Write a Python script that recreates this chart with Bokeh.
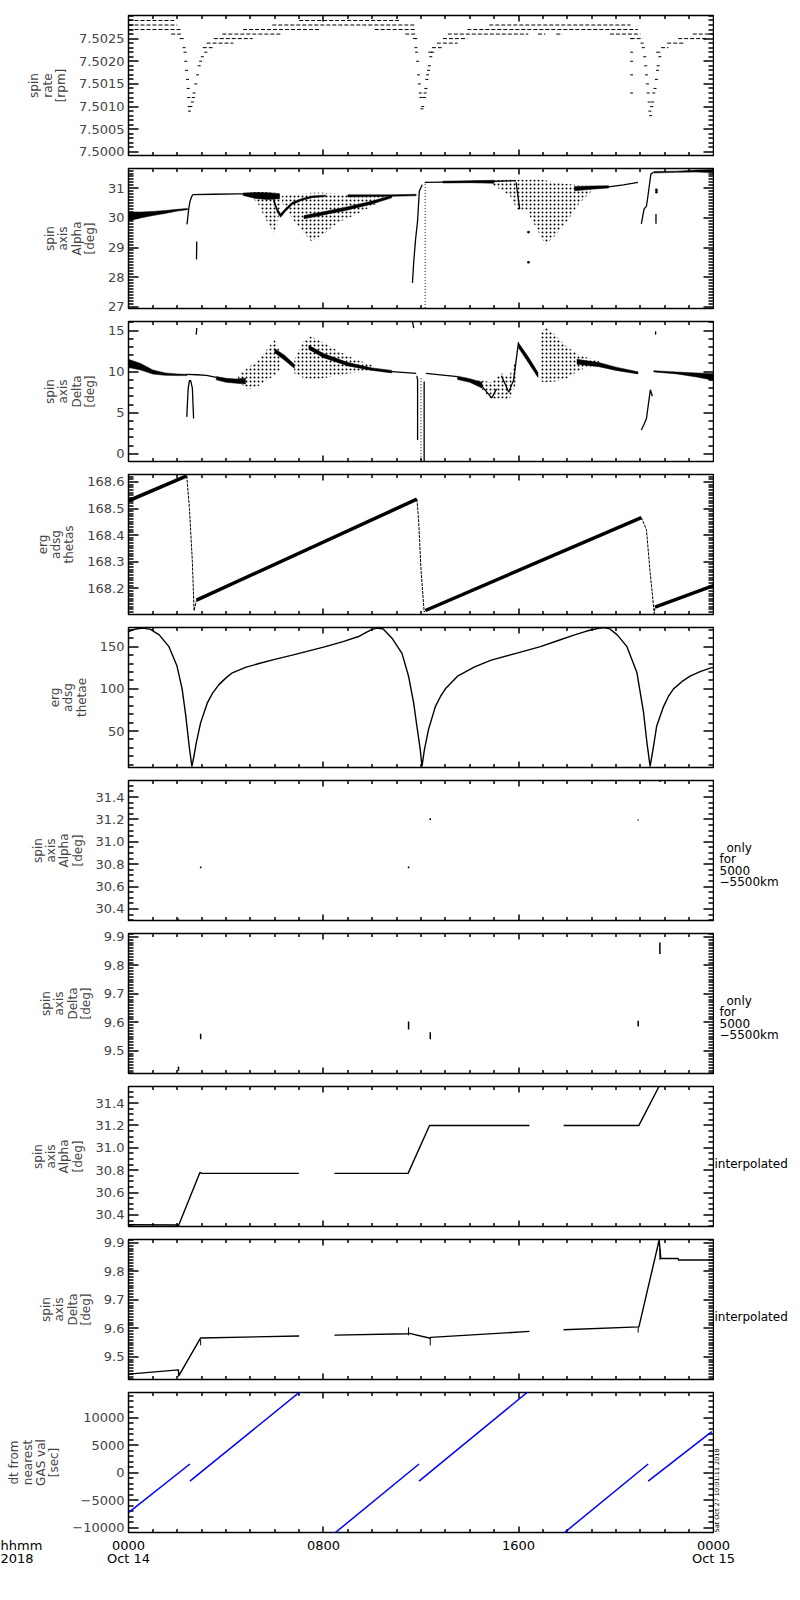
from bokeh.plotting import figure
from bokeh.layouts import column, row
from bokeh.models import LinearAxis, FixedTicker, PrintfTickFormatter, Range1d
from bokeh.core.properties import value
from bokeh.embed import file_html
from bokeh.resources import INLINE

nan = float("nan")
FONT = "DejaVu Sans"
FRAME_W, FRAME_H = 585, 140
BORDER_L, TOP1, GAP_T, GAP_B = 128, 15, 6, 7
PPH = FRAME_W / 24.0

# ---------------- data (hours of Oct 14 2018) ----------------
# spin rate: quantized levels (value, start hour, end hour)
spin_lvl = [7.5029, 7.5028, 7.5027, 7.5026, 7.5025,
            7.5023, 7.5024, 7.5025, 7.5026, 7.5027, 7.5028, 7.5029, 7.5027, 7.5026, 7.5025,
            7.5022, 7.5023, 7.5024, 7.5025, 7.5026, 7.5026, 7.5026, 7.5027, 7.5028,
            7.5026, 7.5025,
            7.5022, 7.5023, 7.5024, 7.5025, 7.5026]
spin_t0 = [0, 0, 0, 1.75, 2.1,
           3.05, 3.2, 3.5, 3.85, 4.7, 5.9, 7.0, 10.1, 11.35, 11.75,
           12.3, 12.45, 12.65, 12.9, 13.1, 16.8, 17.55, 13.9, 14.8,
           19.75, 20.6,
           21.65, 21.85, 22.1, 22.55, 23.15]
spin_t1 = [1.87, 2.0, 2.2, 2.15, 2.3,
           3.45, 4.3, 5.1, 6.3, 7.9, 11.8, 11.1, 11.8, 11.8, 11.85,
           12.5, 12.85, 13.5, 13.9, 16.4, 17.1, 17.8, 20.9, 20.6,
           21.0, 21.1,
           21.9, 22.15, 22.8, 23.7, 24.0]
spin_dip_t = [2.28, 2.32, 2.35, 2.38, 2.42, 2.45, 2.47, 2.49, 2.5, 2.56, 2.62, 2.66, 2.69, 2.76, 2.83, 2.9, 2.96, 3.03, 3.17,
              11.73, 11.79, 11.82, 11.86, 11.9, 11.93, 11.97, 12.0, 12.04, 12.07, 12.14, 12.17, 12.2, 12.24, 12.27, 12.31, 12.34, 12.4, 12.47,
              20.64, 20.64, 20.64, 20.64, 20.64,
              21.07, 21.12, 21.18, 21.22, 21.25, 21.29, 21.32, 21.36, 21.39, 21.42, 21.46, 21.5, 21.55, 21.6, 21.66, 21.7, 21.73, 21.8]
spin_dip_v = [7.5023, 7.5022, 7.5020, 7.5018, 7.5016, 7.5014, 7.5012, 7.5010, 7.5009, 7.5010, 7.5011, 7.5012, 7.5013, 7.5015, 7.5017, 7.5019, 7.5020, 7.5021, 7.5022,
              7.5025, 7.5023, 7.5022, 7.5020, 7.5017, 7.5015, 7.5013, 7.5012, 7.50095, 7.5010, 7.5012, 7.5013, 7.5014, 7.5016, 7.5017, 7.5018, 7.5019, 7.5021, 7.5022,
              7.5025, 7.5022, 7.5020, 7.5017, 7.5013,
              7.5024, 7.5023, 7.5021, 7.5019, 7.5017, 7.5015, 7.5013, 7.5011, 7.5009, 7.5008, 7.5010, 7.5011, 7.5013, 7.5014, 7.5016, 7.5018, 7.5019, 7.5021]

# spin axis alpha (measured): thin traces, dense bands, scattered clouds
alpha_line_t = [2.40, 2.43, 2.47, 2.52, 2.58, 2.63, nan, 2.63, 3.5, 4.5, 5.0, nan, 2.79, 2.80, nan,
                11.65, 11.7, 11.78, 11.86, 11.93, 12.05, nan, 12.15, 13.5, 15.0, 15.9, nan, 15.9, 16.05, nan,
                19.7, 20.3, 20.9, nan, 21.04, 21.15, 21.25, 21.32, 21.43, 21.53, nan, 21.64, 21.64]
alpha_line_v = [29.78, 30.0, 30.3, 30.55, 30.7, 30.78, nan, 30.79, 30.8, 30.81, 30.81, nan, 28.6, 29.2, nan,
                27.8, 28.5, 29.3, 29.9, 30.9, 31.12, nan, 31.2, 31.22, 31.24, 31.26, nan, 31.2, 30.3, nan,
                31.05, 31.12, 31.2, nan, 29.8, 30.3, 30.4, 30.8, 31.48, 31.54, nan, 29.8, 30.13]
alpha_bands = [
    ([0, 0.5, 1.0, 1.5, 2.0, 2.42], [29.9, 30.0, 30.08, 30.15, 30.23, 30.28], [30.2, 30.2, 30.22, 30.25, 30.29, 30.32]),
    ([4.7, 5.2, 5.7, 6.2], [30.76, 30.66, 30.62, 30.65], [30.84, 30.86, 30.85, 30.82]),
    ([5.95, 6.1, 6.24, 6.44, 6.72, 7.13, 7.53, 8.08], [30.55, 30.2, 30.02, 30.22, 30.45, 30.6, 30.68, 30.72],
     [30.68, 30.32, 30.14, 30.32, 30.53, 30.66, 30.74, 30.77]),
    ([7.2, 8.0, 9.0, 10.0, 10.8], [29.97, 30.1, 30.27, 30.47, 30.68], [30.08, 30.21, 30.38, 30.57, 30.76]),
    ([9.0, 10.0, 10.8, 11.8], [30.71, 30.72, 30.73, 30.75], [30.78, 30.78, 30.78, 30.8]),
    ([12.9, 14.0, 15.0], [31.18, 31.19, 31.17], [31.24, 31.26, 31.27]),
    ([18.3, 19.0, 19.7], [30.92, 30.97, 31.01], [31.06, 31.08, 31.09]),
    ([21.55, 22.5, 23.3, 24], [31.52, 31.54, 31.55, 31.53], [31.57, 31.58, 31.62, 31.64]),
]
alpha_clouds = [
    ([5.0, 5.3, 5.6, 5.95, 6.1, 6.25], [30.75, 30.5, 30.0, 29.5, 29.75, 30.5], [30.85, 30.88, 30.88, 30.85, 30.85, 30.8]),
    ([6.3, 6.8, 7.2, 7.5, 8.0, 8.6, 9.3, 10.0, 10.5], [30.5, 29.9, 29.5, 29.2, 29.45, 29.85, 30.1, 30.4, 30.65],
     [30.75, 30.8, 30.82, 30.85, 30.85, 30.82, 30.8, 30.78, 30.78]),
    ([14.9, 15.3, 15.7, 15.95, 16.3, 16.7, 17.1, 17.5, 18.0, 18.5, 19.0],
     [31.1, 30.95, 30.7, 30.25, 30.3, 29.7, 29.1, 29.4, 29.9, 30.5, 30.9],
     [31.25, 31.28, 31.3, 31.3, 31.28, 31.3, 31.27, 31.2, 31.15, 31.1, 31.08]),
]
alpha_drop_t = [12.17, 12.17]
alpha_drop_v = [31.15, 26.9]
alpha_dot_t = [16.41, 16.41, 21.66, 21.66]
alpha_dot_v = [29.52, 28.5, 30.95, 30.87]

# spin axis delta (measured)
delta_line_t = [2.39, 2.45, 2.5, 2.55, 2.62, 2.67, nan, 2.39, 2.8, 3.2, 3.6, nan, 2.78, 2.8, nan,
                10.8, 11.8, nan, 11.65, 11.7, nan, 11.83, 11.86, 11.86, nan, 12.13, 12.13, nan, 12.2, 13.5, nan,
                14.5, 14.9, 15.1, nan, 15.3, 15.6, 15.8, 16.0, nan,
                21.04, 21.15, 21.25, 21.35, 21.41, 21.49, nan, 21.62, 21.63]
delta_line_v = [4.5, 8.0, 8.9, 8.9, 8.0, 4.3, nan, 9.68, 9.62, 9.55, 9.3, nan, 14.5, 15.3, nan,
                10.0, 9.8, nan, 16.1, 15.3, nan, 9.5, 9.0, 1.7, nan, 8.8, -1.0, nan, 9.8, 9.4, nan,
                8.2, 6.8, 7.9, nan, 9.5, 7.5, 9.0, 13.6, nan,
                2.9, 3.6, 4.3, 6.5, 7.8, 7.0, nan, 14.5, 14.9]
delta_bands = [
    ([0, 0.5, 1.0, 1.5, 2.0, 2.4], [10.5, 10.2, 9.7, 9.55, 9.52, 9.52], [11.5, 11.0, 10.2, 9.85, 9.72, 9.68]),
    ([3.6, 4.0, 4.4, 4.8], [9.0, 8.7, 8.6, 8.5], [9.4, 9.2, 9.1, 9.2]),
    ([6.0, 6.4, 6.8], [12.3, 11.4, 10.4], [12.8, 12.0, 10.9]),
    ([7.4, 8.0, 9.0, 10.0, 10.8], [12.7, 11.7, 10.7, 10.15, 9.85], [13.2, 12.2, 11.1, 10.45, 10.15]),
    ([13.5, 14.0, 14.5], [9.05, 8.7, 8.0], [9.45, 9.15, 8.7]),
    ([16.0, 16.4, 16.8], [12.9, 11.1, 9.3], [13.5, 11.8, 9.9]),
    ([18.4, 19.3, 20.0, 20.9], [10.9, 10.6, 10.15, 9.72], [11.5, 11.1, 10.55, 9.98]),
    ([21.55, 22.5, 23.3, 24], [9.97, 9.72, 9.35, 8.95], [10.12, 9.95, 9.85, 9.75]),
]
delta_clouds = [
    ([4.5, 4.9, 5.3, 5.7, 6.0, 6.2], [8.8, 7.8, 8.2, 9.0, 9.5, 10.2], [9.5, 10.5, 11.3, 12.8, 13.9, 12.5]),
    ([6.8, 7.2, 7.5, 8.0, 8.6, 9.3, 10.0], [9.8, 9.2, 9.0, 9.2, 9.6, 9.9, 10.0], [11.5, 13.8, 14.3, 13.5, 12.5, 11.5, 10.8]),
    ([14.3, 14.9, 15.3, 15.6, 15.9], [8.5, 6.6, 6.8, 6.5, 8.5], [9.0, 8.7, 9.8, 9.3, 11.5]),
    ([16.9, 17.1, 17.5, 18.0, 18.5, 19.3], [8.8, 8.7, 8.8, 9.2, 10.2, 10.8], [14.5, 15.5, 14.5, 13.0, 12.0, 11.3]),
]
delta_drop_t = [12.0, 12.0]
delta_drop_v = [9.2, -1.0]

# erg adsg thetas (sawtooth): rising parts and fast drops
thetas_rise_t = [0, 2.39, nan, 2.79, 11.83, nan, 12.18, 21.04, nan, 21.6, 24]
thetas_rise_v = [168.529, 168.623, nan, 168.155, 168.535, nan, 168.116, 168.466, nan, 168.129, 168.21]
thetas_drop_t = [2.39, 2.5, 2.62, 2.69, 2.79, nan, 11.83, 11.9, 12.0, 12.13, 12.18, nan, 21.04, 21.25, 21.39, 21.57, 21.6]
thetas_drop_v = [168.623, 168.5, 168.3, 168.115, 168.155, nan, 168.535, 168.46, 168.27, 168.11, 168.116, nan,
                 168.466, 168.42, 168.27, 168.104, 168.129]

# erg adsg thetae
thetae_t = [0.0, 0.3, 0.6, 0.9, 1.26, 1.66, 1.99, 2.2, 2.35, 2.49, 2.6, 2.69, 2.78, 2.96, 3.23, 3.45, 3.71, 4.0,
            4.26, 4.8, 5.35, 6.0, 6.72, 7.4, 8.08, 8.8, 9.44, 9.75, 10.0, 10.2, 10.45, 10.81, 11.22, 11.49, 11.7,
            11.83, 11.97, 12.04, 12.14, 12.31, 12.59, 12.8, 13.0, 13.5, 14.2, 14.88, 15.9, 16.9, 17.6, 18.3, 18.8,
            19.24, 19.5, 19.75, 20.05, 20.45, 20.86, 21.13, 21.27, 21.4, 21.54, 21.67, 21.95, 22.15, 22.36, 22.7,
            23.04, 23.45, 23.86, 24.0]
thetae_v = [168.0, 171.0, 172.0, 170.5, 164.0, 150.0, 127.0, 100.0, 68.0, 32.0, 8.0, 21.0, 36.0, 60.0, 83.0, 95.0,
            105.0, 113.0, 119.0, 125.5, 130.0, 135.0, 140.0, 145.0, 150.0, 156.0, 162.0, 167.0, 170.5, 172.0, 171.0,
            160.0, 142.0, 115.0, 83.0, 56.0, 28.0, 8.0, 28.0, 52.0, 79.0, 91.0, 100.0, 115.0, 126.0, 134.0, 142.0,
            150.0, 157.0, 164.0, 168.5, 171.5, 172.5, 171.0, 164.0, 150.0, 119.0, 72.0, 36.0, 8.0, 32.0, 56.0, 79.0,
            91.0, 100.0, 108.5, 115.0, 120.5, 124.5, 125.5]

# values at the GAS times (only for 5000-5500 km)
gas_t = [2.05, 2.96, 11.49, 12.38, 20.91, 21.8]
gas_alpha_lo = [30.303, 30.765, 30.765, 31.195, 31.19, 31.535]
gas_alpha_hi = [30.315, 30.78, 30.78, 31.21, 31.2, 31.548]
gas_delta_lo = [9.43, 9.54, 9.575, 9.54, 9.585, 9.84]
gas_delta_hi = [9.445, 9.56, 9.603, 9.565, 9.605, 9.88]

# interpolated spin axis
alpha_int_t = [0, 2.0, 2.05, 2.93, 3.0, 6.99, nan, 8.45, 11.47, 12.35, 16.45, nan, 17.85, 20.94, 21.77, 22.96]
alpha_int_v = [30.313, 30.31, 30.303, 30.78, 30.772, 30.772, nan, 30.772, 30.772, 31.2, 31.2, nan, 31.2, 31.2, 31.55, 31.55]
delta_int_t = [0, 2.05, 2.06, 2.96, 7.0, nan, 8.45, 11.47, 11.48, 12.38, 12.39, 16.45, nan,
               17.85, 20.94, 21.77, 21.84, 22.55, 22.56, 24]
delta_int_v = [9.439, 9.454, 9.433, 9.566, 9.573, nan, 9.576, 9.581, 9.583, 9.565, 9.568, 9.589, nan,
               9.595, 9.605, 9.91, 9.845, 9.845, 9.84, 9.84]

# dt from nearest GAS value [sec]
dt_t0 = [0, 2.52, 8.45, 11.92, 17.85, 21.32]
dt_t1 = [2.52, 7.25, 11.92, 16.6, 21.32, 23.93]
dt_v0 = [-7250, -1500, -11000, -1500, -11000, -1500]
dt_v1 = [1600, 15500, 1600, 15500, 1600, 7500]

hour_ticks = [0, 8, 16, 24]
hour_labels = ["0000", "0800", "1600", "0000"]
day_ticks = [0, 24]
day_labels = ["Oct 14", "Oct 15"]
note_5000 = ["only", "for", "5000", "\u22125500km"]


def steps(lo, hi, step):
    n = int(round((hi - lo) / step))
    return [round(lo + i * step, 6) for i in range(n + 1)]


def poly(t, lo, hi):
    return list(t) + list(t[::-1]), list(lo) + list(hi[::-1])


def snap(v, lo, unit):
    # put a tick on a pixel centre so it is drawn crisp
    return lo + (round((v - lo) / unit - 0.5) + 0.5) * unit


def inward_ticks(p, ylo, yhi, major, minor):
    # IDL style box: ticks pointing into the frame on all four sides
    hx = 24.0 / FRAME_W
    hy = (yhi - ylo) / FRAME_H
    xs, ys = [], []
    small = [m for m in minor if m not in major and ylo <= m <= yhi]
    for x0, sgn in ((0, 1), (24, -1)):
        for vals, ln in ((major, 10), (small, 5)):
            for v in vals:
                y = snap(v, ylo, hy)
                xs.append([x0, x0 + sgn * ln * hx])
                ys.append([y, y])
    big_h = hour_ticks[1:-1]
    for y0, sgn in ((ylo, 1), (yhi, -1)):
        for h in range(1, 24):
            ln = 6 if h in big_h else 3.5
            x = snap(h, 0, hx)
            xs.append([x, x])
            ys.append([y0, y0 + sgn * ln * hy])
    p.multi_line(xs, ys, line_color="black", line_width=1.5)


def panel(yr, major, minor, fmt, label, top=GAP_T):
    ylo, yhi = yr
    p = figure(frame_width=FRAME_W, frame_height=FRAME_H, x_range=Range1d(0, 24), y_range=Range1d(ylo, yhi),
               x_axis_location=None, y_axis_location=None, toolbar_location=None, output_backend="svg",
               min_border_left=BORDER_L, min_border_right=1, min_border_top=top, min_border_bottom=GAP_B)
    p.outline_line_color = "black"
    p.outline_line_width = 1.5
    p.grid.grid_line_color = None
    left = LinearAxis(ticker=FixedTicker(ticks=major, minor_ticks=[]), formatter=PrintfTickFormatter(format=fmt),
                      axis_label=label, major_tick_in=0, major_tick_out=0, minor_tick_in=0, minor_tick_out=0,
                      axis_line_color="black",
                      major_label_text_font=FONT, major_label_text_font_size="13px", major_label_standoff=4,
                      axis_label_text_font=FONT, axis_label_text_font_size="12px",
                      axis_label_text_font_style="normal", axis_label_standoff=8,
                      axis_label_text_line_height=0.95)
    p.add_layout(left, "left")
    inward_ticks(p, ylo, yhi, major, minor)
    return p


def draw_bands(p, bands, clouds):
    for t, lo, hi in clouds:
        xs, ys = poly(t, lo, hi)
        p.patch(xs, ys, fill_color=None, line_color=None, hatch_pattern="dot",
                hatch_color="black", hatch_scale=4, hatch_weight=1)
    for t, lo, hi in bands:
        xs, ys = poly(t, lo, hi)
        p.patch(xs, ys, fill_color="black", line_color="black", line_width=0.5)


# 1: spin rate
p1 = panel((7.49992, 7.50301), steps(7.5, 7.5025, 0.0005), steps(7.4999, 7.503, 0.0001), "%.4f",
           "spin\nrate\n[rpm]", top=TOP1)
p1.segment(x0=spin_t0, y0=spin_lvl, x1=spin_t1, y1=spin_lvl, line_color="black", line_width=1, line_dash="4 2")
p1.scatter(spin_dip_t, spin_dip_v, marker="dash", size=3, line_color="black", line_width=1)

# 2: alpha
p2 = panel((26.94, 31.67), steps(27, 31, 1), steps(26.9, 31.7, 0.1), "%d", "spin\naxis\nAlpha\n[deg]")
draw_bands(p2, alpha_bands, alpha_clouds)
p2.line(alpha_line_t, alpha_line_v, line_color="black", line_width=1.3)
p2.line(alpha_drop_t, alpha_drop_v, line_color="black", line_width=1, line_dash="1 2")
p2.scatter(alpha_dot_t, alpha_dot_v, marker="square", size=1.5, color="black")

# 3: delta
p3 = panel((-0.93, 16.1), steps(0, 15, 5), steps(-1, 16, 1), "%d", "spin\naxis\nDelta\n[deg]")
draw_bands(p3, delta_bands, delta_clouds)
p3.line(delta_line_t, delta_line_v, line_color="black", line_width=1.3)
p3.line(delta_drop_t, delta_drop_v, line_color="black", line_width=1, line_dash="1 2")

# 4: thetas (the oscillating band is drawn as a thick trace)
p4 = panel((168.101, 168.628), steps(168.2, 168.6, 0.1), steps(168.11, 168.62, 0.01), "%.1f",
           "erg\nadsg\nthetas")
p4.line(thetas_rise_t, thetas_rise_v, line_color="black", line_width=3.5)
p4.line(thetas_drop_t, thetas_drop_v, line_color="black", line_width=1, line_dash="3 1")

# 5: thetae
p5 = panel((6.8, 172.7), steps(50, 150, 50), steps(10, 170, 10), "%d", "erg\nadsg\nthetae")
p5.line(thetae_t, thetae_v, line_color="black", line_width=1.4)

# 6, 7: only for 5000-5500 km
p6 = panel((30.297, 31.548), steps(30.4, 31.4, 0.2), steps(30.3, 31.55, 0.05), "%.1f", "spin\naxis\nAlpha\n[deg]")
p6.segment(x0=gas_t, x1=gas_t, y0=gas_alpha_lo, y1=gas_alpha_hi, line_color="black", line_width=1.5)

p7 = panel((9.42, 9.912), steps(9.5, 9.9, 0.1), steps(9.42, 9.91, 0.01), "%.1f", "spin\naxis\nDelta\n[deg]")
p7.segment(x0=gas_t, x1=gas_t, y0=gas_delta_lo, y1=gas_delta_hi, line_color="black", line_width=1.5)

# 8, 9: interpolated
p8 = panel((30.297, 31.548), steps(30.4, 31.4, 0.2), steps(30.3, 31.55, 0.05), "%.1f", "spin\naxis\nAlpha\n[deg]")
p8.line(alpha_int_t, alpha_int_v, line_color="black", line_width=1.4)

p9 = panel((9.42, 9.912), steps(9.5, 9.9, 0.1), steps(9.42, 9.91, 0.01), "%.1f", "spin\naxis\nDelta\n[deg]")
p9.line(delta_int_t, delta_int_v, line_color="black", line_width=1.4)
p9.segment(x0=gas_t, x1=gas_t, y0=gas_delta_lo, y1=gas_delta_hi, line_color="black", line_width=1)

# 10: dt from nearest GAS value
p10 = panel((-10850, 14600), steps(-10000, 10000, 5000), steps(-10000, 14000, 1000), "%d",
            "dt from\nnearest\nGAS val\n[sec]")
p10.left[0].major_label_overrides = {-10000: "\u221210000", -5000: "\u22125000"}
p10.segment(x0=dt_t0, y0=dt_v0, x1=dt_t1, y1=dt_v1, line_color="blue", line_width=1.5)

panels = [p1, p2, p3, p4, p5, p6, p7, p8, p9, p10]
col_h = TOP1 + FRAME_H + GAP_B + 9 * (GAP_T + FRAME_H + GAP_B)


def frame_top(k):
    return TOP1 + k * (GAP_T + FRAME_H + GAP_B)


# right-hand notes (y in pixels from the top of the column)
SIDE_W = 76
side = figure(frame_width=SIDE_W, frame_height=col_h, x_range=Range1d(0, SIDE_W), y_range=Range1d(col_h, 0),
              x_axis_location=None, y_axis_location=None, toolbar_location=None, output_backend="svg",
              min_border=0, outline_line_color=None)
side.grid.grid_line_color = None
for k in (5, 6):
    side.text(x=[12, 5, 5, 5], y=[frame_top(k) + d for d in (67, 78.3, 89.6, 101)], text=note_5000,
              text_font=value(FONT), text_font_size=value("12px"), text_baseline="middle")
for k in (7, 8):
    side.text(x=[0], y=[frame_top(k) + 77.5], text=["interpolated"],
              text_font=value(FONT), text_font_size=value("12px"), text_baseline="middle")
side.text(x=[6.5], y=[frame_top(9) + FRAME_H], text=["Sat Oct 27 10:01:11 2018"], angle=1.5708,
          text_font=value(FONT), text_font_size=value("6.5px"), text_baseline="bottom", text_align="left")

# time labels under the last panel
STRIP_W, STRIP_H = BORDER_L + FRAME_W + 1 + SIDE_W, 30
strip = figure(frame_width=STRIP_W, frame_height=STRIP_H,
               x_range=Range1d(-BORDER_L / PPH, (STRIP_W - BORDER_L) / PPH), y_range=Range1d(STRIP_H, 0),
               x_axis_location=None, y_axis_location=None, toolbar_location=None, output_backend="svg",
               min_border=0, outline_line_color=None)
strip.grid.grid_line_color = None
strip.text(x=hour_ticks, y=[6] * 4, text=hour_labels, text_font=value(FONT), text_font_size=value("13px"),
           text_align="center", text_baseline="middle")
strip.text(x=day_ticks, y=[18.5] * 2, text=day_labels, text_font=value(FONT), text_font_size=value("13px"),
           text_align="center", text_baseline="middle")
strip.text(x=[-BORDER_L / PPH] * 2, y=[6, 18.5], text=["hhmm", "2018"], text_font=value(FONT),
           text_font_size=value("13px"), text_align="left", text_baseline="middle")

layout = column(row(column(*panels), side), strip)
open("out.html", "w").write(file_html(layout, INLINE))
